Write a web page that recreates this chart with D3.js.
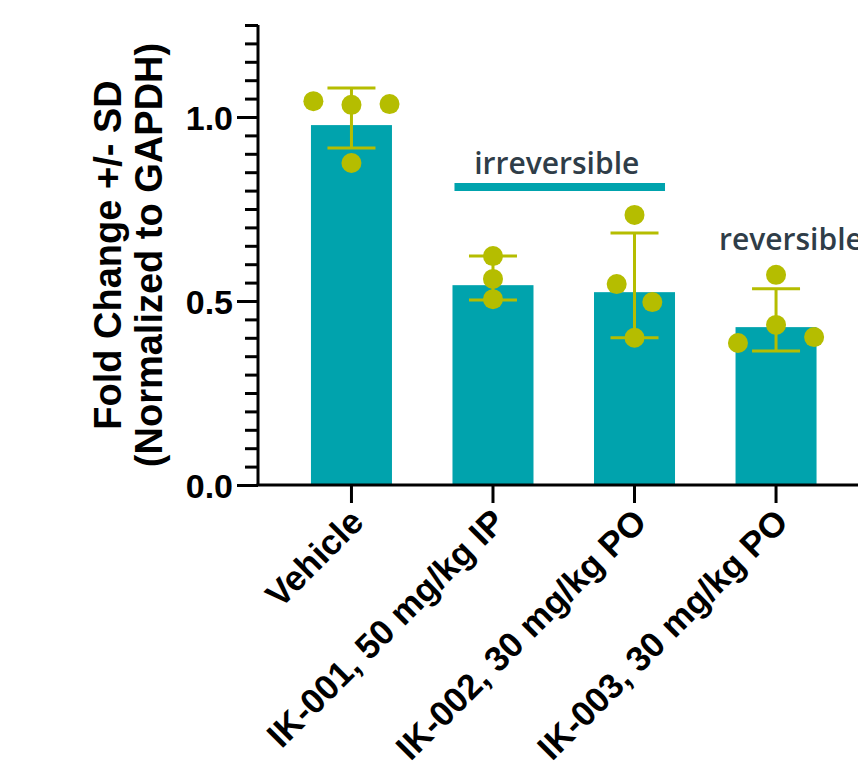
<!DOCTYPE html>
<html>
<head>
<meta charset="utf-8">
<script src="https://cdn.jsdelivr.net/npm/d3@7"></script>
<style>
  body { margin: 0; background: #fff; }
  svg { display: block; }
</style>
</head>
<body>
<div id="chart"></div>
<script>
// chart values
const groups = ["Vehicle", "IK-001, 50 mg/kg IP", "IK-002, 30 mg/kg PO", "IK-003, 30 mg/kg PO"];
const means = [0.978, 0.543, 0.524, 0.429];
const errTop = [1.079, 0.622, 0.685, 0.533];
const errBottom = [0.916, 0.503, 0.40, 0.364];
const points = [
  [1.043, 1.033, 1.035, 0.875],
  [0.622, 0.560, 0.505],
  [0.734, 0.546, 0.497, 0.40],
  [0.571, 0.435, 0.386, 0.402]
];
// horizontal spread of each point, in fractions of bar width
const pointOffsets = [
  [-0.47, 0, 0.47, 0],
  [0, 0, 0],
  [0, -0.22, 0.22, 0],
  [0, 0, -0.47, 0.47]
];
const majorTicks = [0, 0.5, 1.0];
const minorTicks = d3.range(0, 1.2501, 0.05);
const yLabel = ["Fold Change +/- SD", "(Normalized to GAPDH)"];
const bracketText = ["irreversible", "reversible"];

const width = 858, height = 771;
const teal = "#00a3ad", lime = "#b5bd00", ink = "#000";
const arial = "Liberation Sans, Arial, sans-serif";

const svg = d3.select("#chart").append("svg")
  .attr("width", width).attr("height", height);

const x = d3.scaleBand().domain(groups).range([268.5, 859]).paddingInner(0.4276).paddingOuter(0.3);
const y = d3.scaleLinear().domain([0, 1.25]).range([485, 25]);

// bars
svg.append("g").selectAll("rect")
  .data(groups)
  .join("rect")
  .attr("x", d => x(d))
  .attr("width", x.bandwidth())
  .attr("y", (d, i) => y(means[i]))
  .attr("height", (d, i) => y(0) - y(means[i]))
  .attr("fill", teal);

// error bars
const eb = svg.append("g").attr("stroke", lime).attr("stroke-width", 3);
groups.forEach((g, i) => {
  const cx = x(g) + x.bandwidth() / 2;
  eb.append("line").attr("x1", cx).attr("x2", cx).attr("y1", y(errTop[i])).attr("y2", y(errBottom[i]));
  [errTop[i], errBottom[i]].forEach(v => {
    eb.append("line").attr("x1", cx - 24).attr("x2", cx + 24).attr("y1", y(v)).attr("y2", y(v));
  });
});

// points
groups.forEach((g, i) => {
  const cx = x(g) + x.bandwidth() / 2;
  svg.append("g").selectAll("circle")
    .data(points[i])
    .join("circle")
    .attr("cx", (d, j) => cx + pointOffsets[i][j] * x.bandwidth())
    .attr("cy", d => y(d))
    .attr("r", 10)
    .attr("fill", lime);
});

// y axis: minor then major ticks
const yMinor = svg.append("g").attr("transform", "translate(258,0)")
  .call(d3.axisLeft(y).tickValues(minorTicks).tickSize(13).tickFormat(""));
const yMajor = svg.append("g").attr("transform", "translate(258,0)")
  .call(d3.axisLeft(y).tickValues(majorTicks).tickSize(21).tickPadding(4).tickFormat(d3.format(".1f")));
[yMinor, yMajor].forEach(a => {
  a.selectAll("path, line").attr("stroke", ink).attr("stroke-width", 3);
});
yMajor.select(".domain").attr("d", "M0," + y(1.25) + "V" + y(0));
yMinor.select(".domain").remove();
yMajor.selectAll("text")
  .attr("fill", ink)
  .attr("dy", "0.36em")
  .style("font-family", arial)
  .style("font-weight", "bold")
  .style("font-size", "34px");

// x axis
const xAxis = svg.append("g").attr("transform", "translate(0,485)")
  .call(d3.axisBottom(x).tickSize(18).tickFormat(""));
xAxis.select(".domain").attr("d", "M256.5,0H" + width);
xAxis.selectAll("path, line").attr("stroke", ink).attr("stroke-width", 3);

svg.append("g").selectAll("text")
  .data(groups)
  .join("text")
  .attr("transform", d => "translate(" + (x(d) + x.bandwidth() / 2 + 14) + ",524) rotate(-45)")
  .attr("text-anchor", "end")
  .style("font-family", arial)
  .style("font-weight", "bold")
  .style("font-size", "35px")
  .text(d => d);

// y label
svg.append("text")
  .attr("transform", "translate(0,255) rotate(-90)")
  .attr("text-anchor", "middle")
  .style("font-family", arial)
  .style("font-weight", "bold")
  .style("font-size", "38px")
  .selectAll("tspan")
  .data(yLabel)
  .join("tspan")
  .attr("x", 0)
  .attr("y", (d, i) => 121 + i * 41)
  .text(d => d);

// annotations
const bx1 = x(groups[1]), bx2 = x(groups[2]) + x.bandwidth();
svg.append("rect")
  .attr("x", bx1 + 2).attr("width", bx2 - bx1 - 12)
  .attr("y", 183).attr("height", 8)
  .attr("fill", teal);
svg.append("text")
  .attr("x", (bx1 + bx2) / 2 - 7).attr("y", 174)
  .attr("text-anchor", "middle")
  .attr("fill", "#2f3d48")
  .style("font-family", "Open Sans, sans-serif")
  .style("font-weight", 600)
  .style("font-size", "30px")
  .text(bracketText[0]);
svg.append("text")
  .attr("x", 719).attr("y", 250)
  .attr("fill", "#2f3d48")
  .style("font-family", "Open Sans, sans-serif")
  .style("font-weight", 600)
  .style("font-size", "30px")
  .text(bracketText[1]);
</script>
</body>
</html>
